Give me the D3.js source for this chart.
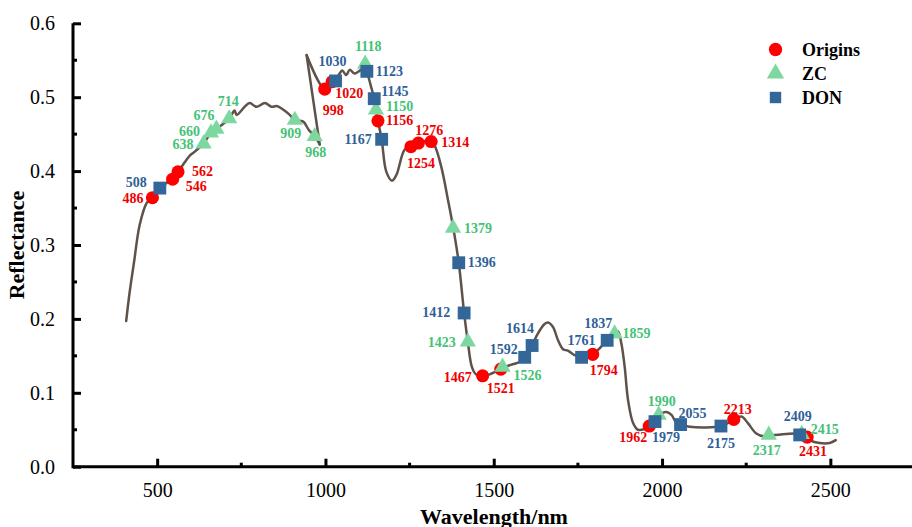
<!DOCTYPE html>
<html>
<head>
<meta charset="utf-8">
<script src="https://cdn.jsdelivr.net/npm/d3@7"></script>
<style>
  html, body { margin: 0; padding: 0; background: #fff; }
  svg { display: block; }
  text { font-family: "Liberation Serif", "Times New Roman", "DejaVu Serif", serif; }
</style>
</head>
<body>
<svg id="chart" width="912" height="527"></svg>
<script>
// ---- Data ----
// Spectrum curve, two detector segments (wavelength nm, reflectance)
const specA_wl = [408, 418, 432, 448, 469, 484, 508, 542, 562, 582, 597, 611, 626, 638, 660, 676, 714, 730, 736, 760, 775, 795, 820, 840, 855, 875, 894, 909, 934, 950, 968, 983];
const specA_r  = [0.197, 0.235, 0.279, 0.327, 0.357, 0.364, 0.377, 0.389, 0.399, 0.412, 0.421, 0.426, 0.432, 0.437, 0.452, 0.457, 0.471, 0.482, 0.476, 0.487, 0.492, 0.487, 0.492, 0.487, 0.488, 0.483, 0.476, 0.469, 0.467, 0.456, 0.447, 0.436];
const specB_wl = [944, 998, 1020, 1030, 1042, 1050, 1062, 1072, 1087, 1102, 1118, 1123, 1135, 1145, 1150, 1156, 1167, 1181, 1198, 1211, 1235, 1254, 1276, 1300, 1314, 1324, 1344, 1364, 1379, 1396, 1412, 1423, 1435, 1447, 1467, 1488, 1521, 1545, 1567, 1587, 1600, 1614, 1631, 1651, 1661, 1676, 1691, 1706, 1720, 1740, 1761, 1794, 1837, 1859, 1869, 1879, 1889, 1899, 1914, 1928, 1948, 1962, 1979, 1998, 2013, 2028, 2043, 2055, 2082, 2132, 2175, 2203, 2213, 2236, 2255, 2280, 2305, 2317, 2359, 2394, 2409, 2438, 2468, 2498, 2516];
const specB_r  = [0.557, 0.511, 0.521, 0.524, 0.532, 0.536, 0.530, 0.537, 0.532, 0.536, 0.540, 0.535, 0.515, 0.498, 0.483, 0.468, 0.443, 0.399, 0.387, 0.395, 0.429, 0.434, 0.438, 0.441, 0.440, 0.435, 0.406, 0.361, 0.325, 0.276, 0.208, 0.169, 0.135, 0.125, 0.123, 0.125, 0.132, 0.137, 0.140, 0.144, 0.150, 0.164, 0.180, 0.193, 0.195, 0.189, 0.171, 0.159, 0.157, 0.151, 0.148, 0.152, 0.171, 0.180, 0.183, 0.167, 0.135, 0.090, 0.059, 0.050, 0.051, 0.055, 0.063, 0.072, 0.074, 0.070, 0.059, 0.057, 0.054, 0.053, 0.055, 0.061, 0.064, 0.068, 0.059, 0.045, 0.041, 0.042, 0.044, 0.045, 0.045, 0.036, 0.032, 0.032, 0.036];

// Selected wavelengths
const originsWl = [486, 546, 562, 998, 1020, 1156, 1254, 1276, 1314, 1467, 1521, 1794, 1962, 2213, 2431];
const originsR  = [0.364, 0.389, 0.399, 0.511, 0.521, 0.468, 0.433, 0.438, 0.440, 0.123, 0.132, 0.152, 0.055, 0.064, 0.040];
const zcWl = [638, 660, 676, 714, 909, 968, 1118, 1150, 1379, 1423, 1526, 1859, 1990, 2317, 2415];
const zcR  = [0.437, 0.452, 0.457, 0.471, 0.469, 0.447, 0.545, 0.483, 0.323, 0.169, 0.135, 0.180, 0.070, 0.043, 0.044];
const donWl = [508, 1030, 1123, 1145, 1167, 1396, 1412, 1592, 1614, 1761, 1837, 1979, 2055, 2175, 2409];
const donR  = [0.377, 0.522, 0.535, 0.498, 0.443, 0.276, 0.208, 0.148, 0.164, 0.148, 0.171, 0.061, 0.057, 0.055, 0.043];

const xTicks = [500, 1000, 1500, 2000, 2500];
const yTicks = [0.0, 0.1, 0.2, 0.3, 0.4, 0.5, 0.6];
const seriesNames = ["Origins", "ZC", "DON"];

// ---- Layout (label placement: anchor, dx, dy relative to marker) ----
const labelPos = {
  "O486": ["end", -9, 1], "O546": ["start", 13, 7], "O562": ["start", 14, 0],
  "O998": ["start", -2, 21], "O1020": ["start", 3, 12], "O1156": ["start", 8, 0],
  "O1254": ["start", -4, 17], "O1276": ["start", -3, -13], "O1314": ["start", 10, 1],
  "O1467": ["end", -11, 2], "O1521": ["middle", 0, 19], "O1794": ["start", -3, 16],
  "O1962": ["end", -2, 11], "O2213": ["middle", 4, -10], "O2431": ["start", -8, 14],
  "Z638": ["end", -10, 1], "Z660": ["end", -11, -1], "Z676": ["end", -2, -13],
  "Z714": ["middle", -1, -17], "Z909": ["middle", -4, 13], "Z968": ["middle", 1, 16],
  "Z1118": ["middle", 3, -17], "Z1150": ["start", 10, -3], "Z1379": ["start", 11, 0],
  "Z1423": ["end", -12, 1], "Z1526": ["start", 11, 9], "Z1859": ["start", 8, 0],
  "Z1990": ["middle", 3, -13], "Z2317": ["middle", -2, 16], "Z2415": ["start", 9, -5],
  "D508": ["end", -13, -6], "D1030": ["middle", -3, -19], "D1123": ["start", 9, 0],
  "D1145": ["start", 7, -7], "D1167": ["end", -10, 0], "D1396": ["start", 9, 0],
  "D1412": ["end", -14, 0], "D1592": ["end", -7, -8], "D1614": ["end", 2, -17],
  "D1761": ["middle", 0, -17], "D1837": ["middle", -9, -17], "D1979": ["start", -3, 16],
  "D2055": ["start", -2, -11], "D2175": ["middle", 0, 17], "D2409": ["middle", -2, -18]
};

const FONT = "Liberation Serif, Times New Roman, DejaVu Serif, serif";
const svg = d3.select("#chart");
const x = d3.scaleLinear().domain([250, 2750]).range([73, 914.5]);
const y = d3.scaleLinear().domain([0, 0.6]).range([466.7, 23.3]);

const lineCol = "#5f524a";
const styles = {
  O: { fill: "#ff0000", text: "#ee0000", sym: d3.symbolCircle, size: 135 },
  Z: { fill: "#7dd8a0", text: "#45c276", sym: d3.symbolTriangle, size: 115 },
  D: { fill: "#336699", text: "#2f5f98", sym: d3.symbolSquare, size: 165 }
};

// ---- Axes ----
const xAxis = d3.axisBottom(x).tickValues(xTicks).tickFormat(d3.format("d")).tickSize(-8).tickPadding(16);
const gx = svg.append("g").attr("transform", `translate(0,${y(0)})`).call(xAxis).attr("font-family", FONT);
gx.select(".domain").attr("d", `M${x(250)},0H${x(2750)}`).attr("stroke", "#000").attr("stroke-width", 3);
gx.selectAll(".tick line").attr("stroke", "#000").attr("stroke-width", 3);
gx.selectAll(".tick text").attr("font-size", 20).attr("fill", "#000").attr("font-family", FONT);

const xMinor = [750, 1250, 1750, 2250];
gx.selectAll(".minor").data(xMinor).enter().append("line")
  .attr("x1", d => x(d)).attr("x2", d => x(d)).attr("y1", 0).attr("y2", -4)
  .attr("stroke", "#000").attr("stroke-width", 3);

const yAxis = d3.axisLeft(y).tickValues(yTicks).tickFormat(d3.format(".1f")).tickSize(-8).tickPadding(18);
const gy = svg.append("g").attr("transform", `translate(${x(250)},0)`).call(yAxis).attr("font-family", FONT);
gy.select(".domain").attr("d", `M0,${y(0.6)}V${y(0) + 1.5}`).attr("stroke", "#000").attr("stroke-width", 3);
gy.selectAll(".tick line").attr("stroke", "#000").attr("stroke-width", 3);
gy.selectAll(".tick text").attr("font-size", 20).attr("fill", "#000").attr("font-family", FONT);
const yMinor = [0.05, 0.15, 0.25, 0.35, 0.45, 0.55];
gy.selectAll(".minor").data(yMinor).enter().append("line")
  .attr("x1", 0).attr("x2", 4).attr("y1", d => y(d)).attr("y2", d => y(d))
  .attr("stroke", "#000").attr("stroke-width", 3);

// Axis titles
svg.append("text").attr("x", 494).attr("y", 524).attr("text-anchor", "middle").attr("font-family", FONT)
  .attr("font-size", 22).attr("font-weight", "bold").text("Wavelength/nm");
svg.append("text").attr("transform", "translate(24,245) rotate(-90)").attr("text-anchor", "middle").attr("font-family", FONT)
  .attr("font-size", 22).attr("font-weight", "bold").text("Reflectance");

// ---- Spectrum ----
const segA = specA_wl.map((w, i) => [w, specA_r[i]]);
const segB = specB_wl.map((w, i) => [w, specB_r[i]]);
const line = d3.line().x(d => x(d[0])).y(d => y(d[1])).curve(d3.curveCatmullRom.alpha(0.5));
const straight = d3.line().x(d => x(d[0])).y(d => y(d[1]));
const gl = svg.append("g").attr("fill", "none").attr("stroke", lineCol).attr("stroke-width", 2.5)
  .attr("stroke-linejoin", "round").attr("stroke-linecap", "round");
gl.append("path").attr("d", line(segA));
gl.append("path").attr("d", straight([segA[segA.length - 1], segB[0]]));
gl.append("path").attr("d", line(segB));

// ---- Markers ----
const sets = [
  ["O", originsWl, originsR],
  ["Z", zcWl, zcR],
  ["D", donWl, donR]
];
sets.forEach(([k, wls, rs]) => {
  const st = styles[k];
  const pts = wls.map((w, i) => ({ w, r: rs[i] }));
  svg.append("g").selectAll("path").data(pts).enter().append("path")
    .attr("d", d3.symbol().type(st.sym).size(st.size))
    .attr("transform", d => `translate(${x(d.w)},${y(d.r)})`)
    .attr("fill", st.fill);
});
sets.forEach(([k, wls, rs]) => {
  const st = styles[k];
  const pts = wls.map((w, i) => ({ w, r: rs[i], p: labelPos[k + w] || ["start", 8, 0] }));
  svg.append("g").selectAll("text").data(pts).enter().append("text")
    .attr("x", d => x(d.w) + d.p[1]).attr("y", d => y(d.r) + d.p[2])
    .attr("text-anchor", d => d.p[0]).attr("dominant-baseline", "central")
    .attr("font-family", FONT)
    .attr("font-size", 14).attr("font-weight", "bold").attr("fill", st.text)
    .text(d => d.w);
});

// ---- Legend ----
const leg = svg.append("g");
const legKeys = ["O", "Z", "D"];
legKeys.forEach((k, i) => {
  const st = styles[k];
  const cy = 49.5 + i * 24;
  leg.append("path").attr("d", d3.symbol().type(st.sym).size(k === "O" ? 140 : 130)())
    .attr("transform", `translate(775.5,${cy})`).attr("fill", st.fill);
  leg.append("text").attr("x", 802).attr("y", cy + 6).attr("font-family", FONT)
    .attr("font-size", 18).attr("font-weight", "bold").text(seriesNames[i]);
});
</script>
</body>
</html>
